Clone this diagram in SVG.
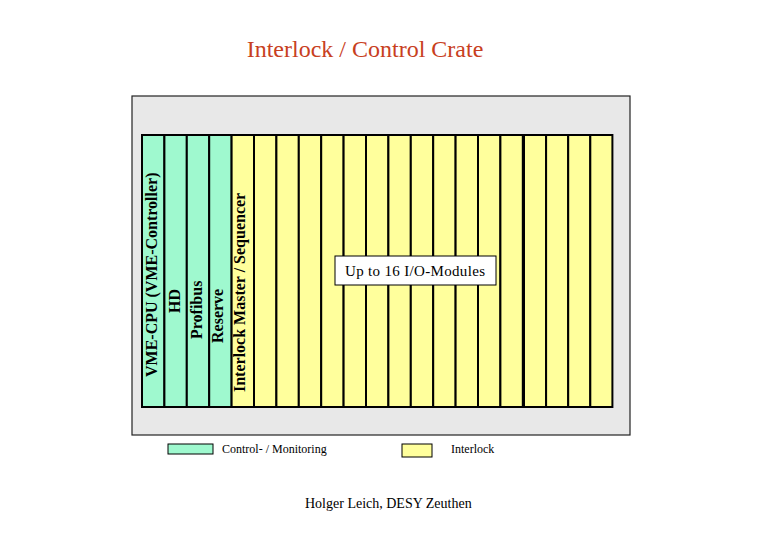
<svg xmlns="http://www.w3.org/2000/svg" width="780" height="540" viewBox="0 0 780 540">
<style>
.ctl{fill:#9ff9cf;stroke:#000;stroke-width:2}
.il{fill:#ffff9c;stroke:#000;stroke-width:2}
.vt{font-family:"Liberation Serif",serif;font-size:16px;font-weight:bold;fill:#000}
.t{font-family:"Liberation Serif",serif;fill:#000}
</style>
<rect width="780" height="540" fill="#fff"/>
<text class="t" x="365" y="57" text-anchor="middle" font-size="24" fill="#c8401e" style="fill:#c8401e">Interlock / Control Crate</text>
<g id="crate">
<rect x="132" y="96" width="498" height="339" fill="#e8e8e8" stroke="#222" stroke-width="1.2"/>
</g>
<g id="control-slots">
<rect class="ctl" x="142" y="135" width="22.4" height="272"/>
<rect class="ctl" x="164.4" y="135" width="22.4" height="272"/>
<rect class="ctl" x="186.8" y="135" width="22.4" height="272"/>
<rect class="ctl" x="209.2" y="135" width="22.4" height="272"/>
</g>
<g id="interlock-slots">
<rect class="il" x="231.6" y="135" width="22.4" height="272"/>
<rect class="il" x="254" y="135" width="22.4" height="272"/>
<rect class="il" x="276.4" y="135" width="22.4" height="272"/>
<rect class="il" x="298.8" y="135" width="22.4" height="272"/>
<rect class="il" x="321.2" y="135" width="22.4" height="272"/>
<rect class="il" x="343.6" y="135" width="22.4" height="272"/>
<rect class="il" x="366" y="135" width="22.4" height="272"/>
<rect class="il" x="388.4" y="135" width="22.4" height="272"/>
<rect class="il" x="410.8" y="135" width="22.4" height="272"/>
<rect class="il" x="433.2" y="135" width="22.4" height="272"/>
<rect class="il" x="455.6" y="135" width="22.4" height="272"/>
<rect class="il" x="478" y="135" width="22.4" height="272"/>
<rect class="il" x="500.4" y="135" width="22.4" height="272"/>
<rect class="il" x="524" y="135" width="22.1" height="272"/>
<rect class="il" x="546.1" y="135" width="22.1" height="272"/>
<rect class="il" x="568.2" y="135" width="22.1" height="272"/>
<rect class="il" x="590.3" y="135" width="22.1" height="272"/>
</g>
<g id="slot-labels">
<text class="vt" transform="translate(157,377) rotate(-90)">VME-CPU (VME-Controller)</text>
<text class="vt" transform="translate(180,313) rotate(-90)">HD</text>
<text class="vt" transform="translate(202,339) rotate(-90)">Profibus</text>
<text class="vt" transform="translate(223,343) rotate(-90)">Reserve</text>
<text class="vt" transform="translate(245,392) rotate(-90)">Interlock Master / Sequencer</text>
</g>
<g id="io-label">
<rect x="335" y="256" width="161" height="29" fill="#fff" stroke="#000" stroke-width="1"/>
<text class="t" x="345" y="276" font-size="15" textLength="140">Up to 16 I/O-Modules</text>
</g>
<g id="legend-control">
<rect x="168" y="444" width="45" height="10" fill="#9ff9cf" stroke="#000" stroke-width="1"/>
<text class="t" x="222" y="453" font-size="12">Control- / Monitoring</text>
</g>
<g id="legend-interlock">
<rect x="402" y="444" width="30" height="13" fill="#ffff9c" stroke="#000" stroke-width="1"/>
<text class="t" x="451" y="453" font-size="12">Interlock</text>
</g>
<text class="t" x="305" y="508" font-size="14">Holger Leich, DESY Zeuthen</text>
</svg>
